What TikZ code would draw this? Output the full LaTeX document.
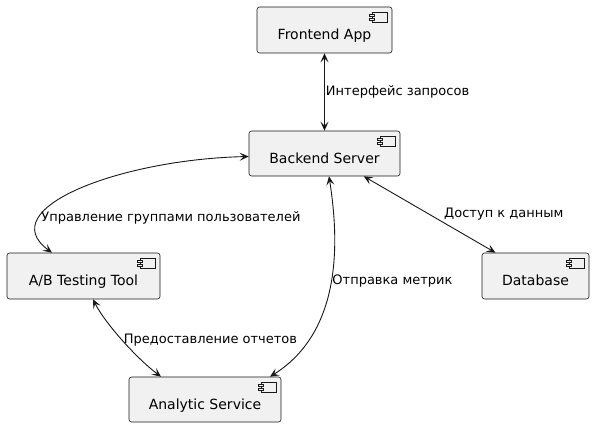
\documentclass[tikz,border=0pt]{standalone}
\usepackage{fontspec}
\setmainfont{DejaVu Sans}
\usetikzlibrary{arrows.meta}
\definecolor{compfill}{HTML}{F1F1F1}
\definecolor{compline}{HTML}{181818}

\begin{document}
\begin{tikzpicture}[x=1pt, y=1pt,
	comp/.style={draw=compline, fill=compfill, line width=0.6pt, rounded corners=2.5pt,
		minimum height=46pt, text height=20pt, text depth=0pt, inner sep=0pt,
		font=\fontsize{14}{16}\selectfont},
	link/.style={<->, draw=compline, line width=0.9pt},
	lbl/.style={font=\fontsize{13}{15}\selectfont, inner sep=1pt},
	>={Stealth[length=9pt, width=8pt, inset=4pt]}]
	\useasboundingbox (0,0) rectangle (594,427);

	\node[comp, minimum width=135pt] (front) at (324.5,397) {Frontend App};
	\node[comp, minimum width=151pt, minimum height=45pt] (back) at (324.5,273.5) {Backend Server};
	\node[comp, minimum width=153pt] (abtest) at (83.5,151) {A/B Testing Tool};
	\node[comp, minimum width=152pt, minimum height=45pt] (analytic) at (205,27.5) {Analytic Service};
	\node[comp, minimum width=107pt] (db) at (535.5,151) {Database};

	% component icons
	\foreach \c in {front, back, abtest, analytic, db} {
		\draw[compline, line width=0.6pt, fill=compfill] ([xshift=-20pt, yshift=-6pt]\c.north east) rectangle +(15,-10);
		\draw[compline, line width=0.6pt, fill=compfill] ([xshift=-23pt, yshift=-8pt]\c.north east) rectangle +(5,-2);
		\draw[compline, line width=0.6pt, fill=compfill] ([xshift=-23pt, yshift=-12pt]\c.north east) rectangle +(5,-2);
	}

	\draw [link]
		(front) edge node[lbl, right] {Интерфейс запросов} (back)
		(back) edge node[lbl, pos=0.6, anchor=south west] {Доступ к данным} (db)
		;

	\draw [link] ([yshift=-3pt]back.west) .. controls +(-129,-3) and +(-60,44) .. ([xshift=-31.5pt]abtest.north)
		node[lbl, pos=0.74, anchor=west] {Управление группами пользователей};
	\draw [link] ([xshift=4.5pt]back.south) .. controls +(9,-58) and +(75,47) .. ([xshift=65pt]analytic.north)
		node[lbl, pos=0.5, anchor=west] {Отправка метрик};
	\draw [link] ([xshift=9.5pt]abtest.south) .. controls +(12,-24) and +(-24,18) .. ([xshift=-44pt]analytic.north)
		node[lbl, pos=0.5, anchor=west] {Предоставление отчетов};
\end{tikzpicture}
\end{document}
